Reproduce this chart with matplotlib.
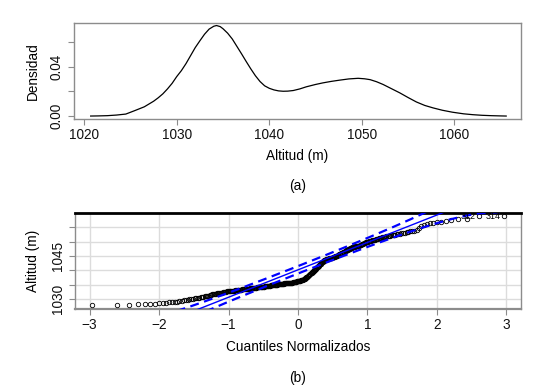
from statistics import NormalDist

import matplotlib
matplotlib.use("Agg")
import matplotlib.pyplot as plt
import numpy as np

plt.rcParams["font.family"] = ["Liberation Sans", "DejaVu Sans"]

# (a) density curve of altitude
dens_x = [1020.7, 1021.5, 1022.5, 1023.5, 1024.5, 1025.5, 1026.5, 1027.5, 1028.0, 1028.5,
          1029.0, 1029.5, 1030.0, 1030.5, 1031.0, 1031.5, 1032.0, 1032.5, 1033.0, 1033.5,
          1034.0, 1034.3, 1034.7, 1035.0, 1035.5, 1036.0, 1036.5, 1037.0, 1037.5, 1038.0,
          1038.5, 1039.0, 1039.5, 1040.0, 1040.5, 1041.0, 1041.5, 1042.0, 1042.6, 1043.3,
          1044.0, 1045.0, 1045.8, 1046.7, 1047.6, 1048.6, 1049.6, 1050.3, 1050.9, 1051.6,
          1052.3, 1053.2, 1054.1, 1055.0, 1055.9, 1056.8, 1057.7, 1058.7, 1059.8, 1061.0,
          1062.0, 1063.0, 1064.0, 1065.0, 1065.6]
dens_y = [0.0000, 0.0001, 0.0003, 0.0008, 0.0016, 0.0045, 0.0075, 0.0120, 0.0148, 0.0180,
          0.0220, 0.0265, 0.0320, 0.0368, 0.0425, 0.0490, 0.0555, 0.0610, 0.0663, 0.0705,
          0.0728, 0.0734, 0.0725, 0.0708, 0.0672, 0.0625, 0.0565, 0.0505, 0.0443, 0.0383,
          0.0327, 0.0280, 0.0245, 0.0225, 0.0212, 0.0204, 0.0201, 0.0202, 0.0207, 0.0220,
          0.0237, 0.0256, 0.0269, 0.0281, 0.0291, 0.0301, 0.0306, 0.0302, 0.0295, 0.0278,
          0.0256, 0.0222, 0.0188, 0.0150, 0.0114, 0.0086, 0.0066, 0.0047, 0.0031, 0.0018,
          0.0011, 0.0006, 0.0003, 0.0001, 0.0000]

# (b) sorted altitude sample (m) as value / frequency
alt_vals = [1027.8, 1028.0, 1028.1, 1028.3, 1028.4, 1028.5, 1028.6, 1028.7, 1028.8, 1028.9,
            1029.0, 1029.1, 1029.3, 1029.4, 1029.6, 1029.7, 1029.8, 1029.9, 1030.0, 1030.1,
            1030.2, 1030.3, 1030.4, 1030.5, 1030.6, 1030.7, 1030.8, 1030.9, 1031.0, 1031.1,
            1031.2, 1031.4, 1031.5, 1031.6, 1031.7, 1031.8, 1031.9, 1032.0, 1032.1, 1032.2,
            1032.3, 1032.4, 1032.5, 1032.6, 1032.7, 1032.8, 1032.9, 1033.0, 1033.1, 1033.2,
            1033.3, 1033.4, 1033.5, 1033.6, 1033.7, 1033.8, 1033.9, 1034.0, 1034.1, 1034.2,
            1034.3, 1034.4, 1034.5, 1034.6, 1034.7, 1034.8, 1034.9, 1035.0, 1035.1, 1035.2,
            1035.3, 1035.4, 1035.5, 1035.6, 1035.7, 1035.8, 1035.9, 1036.0, 1036.1, 1036.2,
            1036.3, 1036.4, 1036.5, 1036.6, 1036.7, 1036.8, 1036.9, 1037.1, 1037.2, 1037.4,
            1037.5, 1037.7, 1037.8, 1038.0, 1038.1, 1038.3, 1038.4, 1038.6, 1038.7, 1038.9,
            1039.1, 1039.3, 1039.5, 1039.7, 1039.9, 1040.0, 1040.2, 1040.4, 1040.6, 1040.8,
            1041.0, 1041.2, 1041.4, 1041.6, 1041.8, 1042.0, 1042.2, 1042.3, 1042.5, 1042.7,
            1042.9, 1043.1, 1043.3, 1043.5, 1043.6, 1043.7, 1043.8, 1043.9, 1044.0, 1044.1,
            1044.2, 1044.3, 1044.4, 1044.5, 1044.6, 1044.7, 1044.8, 1044.9, 1045.0, 1045.2,
            1045.3, 1045.5, 1045.6, 1045.7, 1045.9, 1046.0, 1046.1, 1046.2, 1046.4, 1046.5,
            1046.6, 1046.8, 1046.9, 1047.0, 1047.2, 1047.3, 1047.4, 1047.5, 1047.7, 1047.8,
            1047.9, 1048.0, 1048.1, 1048.2, 1048.3, 1048.4, 1048.5, 1048.6, 1048.8, 1048.9,
            1049.0, 1049.1, 1049.3, 1049.4, 1049.5, 1049.7, 1049.8, 1049.9, 1050.0, 1050.1,
            1050.2, 1050.3, 1050.4, 1050.5, 1050.6, 1050.7, 1050.8, 1050.9, 1051.0, 1051.1,
            1051.2, 1051.3, 1051.4, 1051.5, 1051.6, 1051.7, 1051.8, 1051.9, 1052.0, 1052.1,
            1052.2, 1052.3, 1052.4, 1052.5, 1052.6, 1052.7, 1052.8, 1052.9, 1053.1, 1053.2,
            1053.3, 1053.5, 1053.6, 1053.8, 1053.9, 1054.8, 1055.5, 1055.8, 1056.0, 1056.3,
            1056.5, 1056.7, 1056.9, 1057.2, 1057.5, 1057.8, 1058.0, 1058.8]
alt_freq = [1, 2, 1, 2, 1, 1, 1, 1, 1, 1,
            1, 1, 1, 1, 1, 1, 1, 1, 1, 1,
            1, 1, 1, 1, 1, 1, 1, 1, 1, 1,
            1, 1, 1, 1, 1, 1, 2, 2, 2, 2,
            2, 1, 1, 1, 3, 3, 3, 3, 3, 3,
            3, 3, 3, 3, 4, 3, 3, 4, 3, 3,
            3, 3, 3, 4, 3, 3, 3, 4, 4, 4,
            4, 4, 4, 4, 4, 3, 2, 2, 2, 2,
            2, 2, 2, 2, 1, 1, 1, 1, 1, 1,
            1, 1, 1, 1, 1, 1, 1, 1, 1, 1,
            1, 1, 1, 1, 1, 1, 1, 1, 1, 1,
            1, 1, 1, 1, 1, 1, 1, 1, 1, 1,
            1, 1, 1, 1, 2, 1, 2, 1, 2, 1,
            2, 1, 2, 1, 2, 1, 2, 1, 1, 1,
            1, 1, 1, 1, 1, 1, 1, 1, 1, 1,
            1, 1, 1, 1, 1, 1, 1, 1, 1, 1,
            1, 2, 1, 1, 2, 1, 1, 2, 1, 1,
            1, 1, 1, 1, 1, 1, 1, 1, 1, 1,
            1, 1, 1, 1, 1, 1, 1, 1, 1, 1,
            1, 1, 1, 1, 1, 1, 1, 1, 2, 1,
            1, 1, 1, 1, 1, 1, 1, 1, 1, 1,
            1, 1, 1, 1, 1, 1, 1, 1, 1, 1,
            1, 1, 1, 1, 1, 1, 1, 2]
id_labels = ["312", "314"]

W, H = 548, 388
FRAME = "#8c8c8c"
BLUE = "#0000ff"
FS = 9.8


def px_box(left, top, right, bottom):
    return [left / W, 1 - bottom / H, (right - left) / W, (bottom - top) / H]


def px_text(fig, x, y, s, **kw):
    fig.text(x / W, 1 - y / H, s, ha="center", va="center", fontsize=FS, **kw)


def style_axes(ax):
    for sp in ax.spines.values():
        sp.set_color(FRAME)
        sp.set_linewidth(1.0)
    ax.tick_params(direction="out", length=4, width=0.8, color=FRAME,
                   labelsize=FS, labelcolor="#111111")
    ax.tick_params(axis="x", pad=2.5)
    ax.tick_params(axis="y", pad=3.5)
    for lab in ax.get_yticklabels():
        lab.set_rotation(90)
        lab.set_va("center")


fig = plt.figure(figsize=(W / 100, H / 100), dpi=100)

# ---- (a) density ----
ax1 = fig.add_axes(px_box(74, 23.3, 521, 119))
ax1.plot(dens_x, dens_y, color="black", lw=0.9)
ax1.set_xlim(1018.9, 1067.2)
ax1.set_ylim(-0.0024, 0.0752)
ax1.set_xticks([1020, 1030, 1040, 1050, 1060])
ax1.set_yticks([0.00, 0.02, 0.04, 0.06])
ax1.set_yticklabels(["0.00", "", "0.04", ""])
style_axes(ax1)

px_text(fig, 33, 71, "Densidad", rotation=90)
px_text(fig, 297.5, 156, "Altitud (m)")
px_text(fig, 297.5, 185.5, "(a)")

# ---- (b) normal qq plot with envelope ----
sample = np.sort(np.repeat(alt_vals, alt_freq))
n = len(sample)
nd = NormalDist()
P = (np.arange(1, n + 1) - 0.5) / n
z = np.array([nd.inv_cdf(p) for p in P])

q_lo, q_hi = np.quantile(sample, [0.25, 0.75])
z_lo, z_hi = nd.inv_cdf(0.25), nd.inv_cdf(0.75)
slope = (q_hi - q_lo) / (z_hi - z_lo)
intercept = q_lo - slope * z_lo
fit = intercept + slope * z
se = slope / np.array([nd.pdf(v) for v in z]) * np.sqrt(P * (1 - P) / n)
zz = nd.inv_cdf(0.975)

ax2 = fig.add_axes(px_box(75, 212.5, 521, 309.3))
ax2.set_xlim(-3.21, 3.21)
ax2.set_ylim(1026.4, 1060.1)
ax2.set_xticks(range(-3, 4))
ax2.set_yticks([1030, 1035, 1040, 1045, 1050, 1055])
ax2.set_yticklabels(["1030", "", "", "1045", "", ""])
ax2.grid(True, color="#dcdcdc", lw=1.0)
ax2.set_axisbelow(True)

ax2.plot(z, sample, "o", mfc="none", mec="black", ms=3.2, mew=0.6, zorder=3)
xs = np.array([-3.3, 3.3])
ax2.plot(xs, intercept + slope * xs, color=BLUE, lw=1.0, zorder=4)
ax2.plot(z, fit + zz * se, color=BLUE, lw=1.6, ls=(0, (4, 2.5)), zorder=4)
ax2.plot(z, fit - zz * se, color=BLUE, lw=1.6, ls=(0, (4, 2.5)), zorder=4)

for lab, xv, yv in zip(id_labels, z[-2:], sample[-2:]):
    ax2.text(xv - 0.05, yv, lab, ha="right", va="center", fontsize=6.5, zorder=5)

style_axes(ax2)
ax2.spines["top"].set_color("black")
ax2.spines["top"].set_linewidth(2.0)
ax2.spines["bottom"].set_linewidth(1.6)

px_text(fig, 33, 261, "Altitud (m)", rotation=90)
px_text(fig, 298, 347, "Cuantiles Normalizados")
px_text(fig, 298, 378, "(b)")

fig.savefig("out.png", dpi=100)
